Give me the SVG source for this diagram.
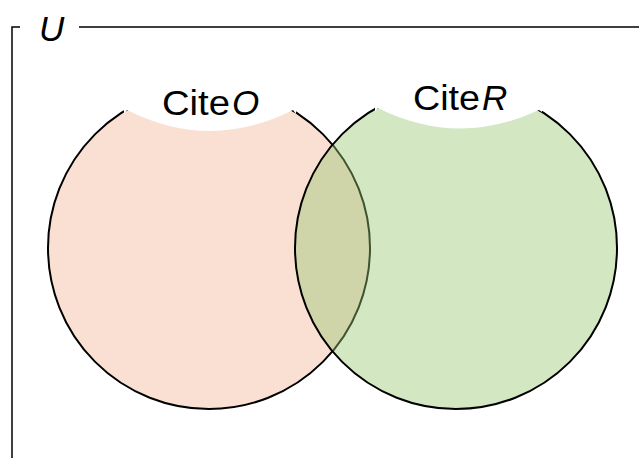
<svg xmlns="http://www.w3.org/2000/svg" width="639" height="458" viewBox="0 0 639 458">
<style>
.lbl{font-family:"Liberation Sans","Noto Sans",sans-serif;font-size:35px;fill:#000}
.it{font-style:italic}
.cut{fill:#fff;stroke:none}
</style>
<rect width="639" height="458" fill="#fff"/>
<g id="universe">
<path d="M12,458 V27 H20 M79,27 H639" fill="none" stroke="#000" stroke-width="1.5"/>
<text class="lbl it" x="39" y="41" font-size="36">U</text>
</g>
<g id="setO">
<circle cx="209" cy="248" r="161" fill="#FAE0D2" stroke="#000" stroke-width="2"/>
<path class="cut" d="M124,114 L127,110 Q210,152 293,110 L296,114 L296,80 L124,80 Z"/>
</g>
<g id="setR">
<circle cx="456" cy="248" r="161" fill="#96C670" fill-opacity="0.42" stroke="#000" stroke-width="2"/>
<path class="cut" d="M375,112 L378,108 Q458,148 539,110 L542,112 L542,80 L375,80 Z"/>
</g>
<g id="labels">
<text class="lbl" x="162" y="115" textLength="68" lengthAdjust="spacingAndGlyphs">Cite</text>
<text class="lbl it" x="232" y="115">O</text>
<text class="lbl" x="413" y="110" textLength="67" lengthAdjust="spacingAndGlyphs">Cite</text>
<text class="lbl it" x="482" y="110">R</text>
</g>
</svg>
